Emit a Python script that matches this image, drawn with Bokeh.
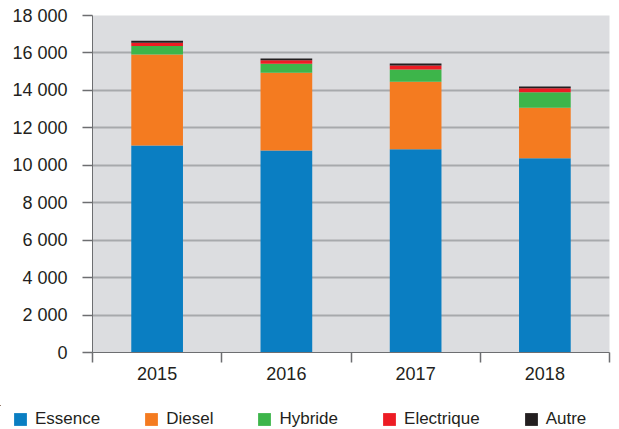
from bokeh.plotting import figure
from bokeh.layouts import column
from bokeh.models import (Range1d, FixedTicker, Legend, LegendItem, ColumnDataSource)
from bokeh.embed import file_html
from bokeh.resources import INLINE

years = ["2015", "2016", "2017", "2018"]
series = ["Essence", "Diesel", "Hybride", "Electrique", "Autre"]
essence = [11050, 10790, 10860, 10380]
diesel = [4870, 4150, 3600, 2690]
hybride = [445, 480, 660, 830]
electrique = [180, 190, 210, 215]
autre = [105, 90, 105, 90]
colors = ["#0a7ec2", "#f47b20", "#3db54a", "#ed1c24", "#231f20"]
y_ticks = list(range(0, 18001, 2000))

FONT = "Liberation Sans"
TXT = "#231f20"
AX = "#6d6e71"

xpos = [i + 0.5 for i in range(len(years))]
src = ColumnDataSource(dict(x=xpos, Essence=essence, Diesel=diesel, Hybride=hybride,
                            Electrique=electrique, Autre=autre))

p = figure(width=619, height=405, output_backend="svg", toolbar_location=None,
           x_range=Range1d(0, len(years)), y_range=Range1d(0, 18000),
           min_border_left=92, min_border_right=10, min_border_top=15, min_border_bottom=53)
p.frame_align = False
p.background_fill_color = "#dcdde0"
p.border_fill_color = "white"
p.outline_line_color = None

rs = p.vbar_stack(series, x="x", width=0.4, source=src, color=colors, line_color=None)

# grid
p.xgrid.grid_line_color = None
p.ygrid.ticker = FixedTicker(ticks=y_ticks)
p.ygrid.grid_line_color = "#a7a9ac"
p.ygrid.grid_line_width = 2

# y axis
p.yaxis.ticker = FixedTicker(ticks=y_ticks)
p.yaxis.major_label_overrides = {v: f"{v:,}".replace(",", " ") for v in y_ticks}
p.yaxis.major_tick_out = 10
p.yaxis.major_tick_in = 0
p.yaxis.minor_tick_line_color = None
p.yaxis.major_label_standoff = 15
p.yaxis.axis_line_color = AX
p.yaxis.major_tick_line_color = AX
p.yaxis.major_tick_line_width = 1.5
p.yaxis.major_label_text_font = FONT
p.yaxis.major_label_text_font_size = "18px"
p.yaxis.major_label_text_color = TXT

# x axis
p.xaxis.ticker = FixedTicker(ticks=xpos, minor_ticks=list(range(len(years) + 1)))
p.xaxis.major_label_overrides = {x: y for x, y in zip(xpos, years)}
p.xaxis.major_tick_out = 0
p.xaxis.major_tick_in = 0
p.xaxis.major_tick_line_color = None
p.xaxis.minor_tick_out = 10
p.xaxis.minor_tick_in = 0
p.xaxis.minor_tick_line_color = AX
p.xaxis.minor_tick_line_width = 1.5
p.xaxis.axis_line_color = AX
p.xaxis.major_label_standoff = 4
p.xaxis.major_label_text_font = FONT
p.xaxis.major_label_text_font_size = "18px"
p.xaxis.major_label_text_color = TXT

# legend strip (separate figure so the legend can span the full width)
lg = figure(width=619, height=24, output_backend="svg", toolbar_location=None,
            x_range=Range1d(100, 101), y_range=Range1d(-2, -1),
            x_axis_location=None, y_axis_location=None,
            min_border_left=0, min_border_right=0, min_border_top=0, min_border_bottom=0)
lg.frame_align = False
lg.outline_line_color = None
lg.grid.visible = False
lg.background_fill_color = "white"
lrs = lg.vbar_stack(series, x="x", width=0.4, source=src, color=colors, line_color=None)

legend = Legend(items=[LegendItem(label=s, renderers=[r]) for s, r in zip(series, lrs)],
                orientation="horizontal", location=(12, 0),
                glyph_width=16, glyph_height=16, label_standoff=7, spacing=43,
                padding=0, margin=0, border_line_color=None, background_fill_alpha=0,
                label_text_font=FONT, label_text_font_size="17px", label_text_color=TXT,
                label_height=16)
lg.add_layout(legend, "center")

open("out.html", "w").write(file_html(column(p, lg, spacing=0), INLINE))
